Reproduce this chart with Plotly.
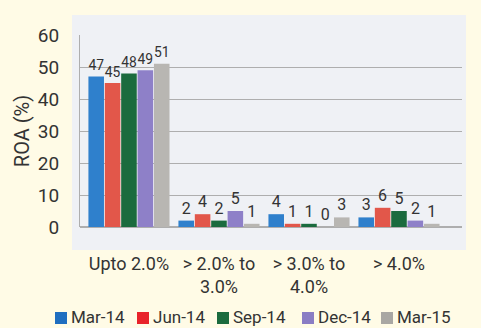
import plotly.graph_objects as go

categories = ["Upto 2.0%", "> 2.0% to<br>3.0%", "> 3.0% to<br>4.0%", "> 4.0%"]
series_names = ["Mar-14", "Jun-14", "Sep-14", "Dec-14", "Mar-15"]
mar14 = [47, 2, 4, 3]
jun14 = [45, 4, 1, 6]
sep14 = [48, 2, 1, 5]
dec14 = [49, 5, 0, 2]
mar15 = [51, 1, 3, 1]
series_values = [mar14, jun14, sep14, dec14, mar15]
colors = ["#2F80CC", "#E2574A", "#1B6B3E", "#8E80C8", "#B8B6B2"]
legend_colors = ["#1F6EC0", "#E8232A", "#1B6B3E", "#8A7DC4", "#A9A7A3"]

FONT = "Roboto, sans-serif"

# plot area in pixels (for placing legend helpers)
PL, PR, PT, PB = 80, 462, 35, 227
def px_x(p):
    return (p - PL) / (PR - PL)
def px_y(p):
    return (PB - p) / (PB - PT)

fig = go.Figure()
for name, vals, col in zip(series_names, series_values, colors):
    fig.add_trace(go.Bar(
        x=categories, y=vals, name=name,
        marker=dict(color=col, line=dict(width=0)),
        text=[str(v) for v in vals], textposition="outside",
        textfont=dict(family=FONT, size=16, color="#333333"),
        cliponaxis=False, showlegend=False,
    ))

fig.add_shape(type="rect", xref="paper", yref="paper",
              x0=px_x(72), x1=px_x(466), y0=px_y(250), y1=px_y(15),
              fillcolor="#EFF1F5", line=dict(width=0), layer="below")

# legend: colored squares + labels
sq_left = [55, 137, 217, 302, 381]
for name, col, sx in zip(series_names, legend_colors, sq_left):
    fig.add_shape(type="rect", xref="paper", yref="paper",
                  x0=px_x(sx), x1=px_x(sx + 12), y0=px_y(324), y1=px_y(312),
                  fillcolor=col, line=dict(width=0))
    fig.add_annotation(xref="paper", yref="paper", x=px_x(sx + 15), y=px_y(317),
                       xanchor="left", yanchor="middle", showarrow=False, borderpad=0,
                       text=name, font=dict(family=FONT, size=17, color="#333333"))

fig.update_layout(
    width=481, height=328,
    margin=dict(l=PL, r=481 - PR, t=PT, b=328 - PB, autoexpand=False),
    paper_bgcolor="#FFFBE6",
    plot_bgcolor="rgba(0,0,0,0)",
    barmode="group", bargap=0.09, bargroupgap=0.05,
    font=dict(family=FONT, size=17, color="#333333"),
    showlegend=False,
)
fig.update_yaxes(range=[0, 60], dtick=10, showgrid=True, gridcolor="#AEAEAE",
                 gridwidth=1, zeroline=True, zerolinecolor="#AEAEAE",
                 title=dict(text="ROA (%)", font=dict(family=FONT, size=20, color="#333333"), standoff=2),
                 tickfont=dict(family=FONT, size=19, color="#333333"),
                 showline=True, linecolor="#AEAEAE",
                 ticks="outside", ticklen=16, tickcolor="rgba(0,0,0,0)")
fig.update_xaxes(range=[-0.544, 3.7], showgrid=False, ticks="outside", ticklen=20,
                 tickcolor="rgba(0,0,0,0)",
                 tickfont=dict(family=FONT, size=18, color="#333333"),
                 showline=False)

fig.write_html("out.html")
